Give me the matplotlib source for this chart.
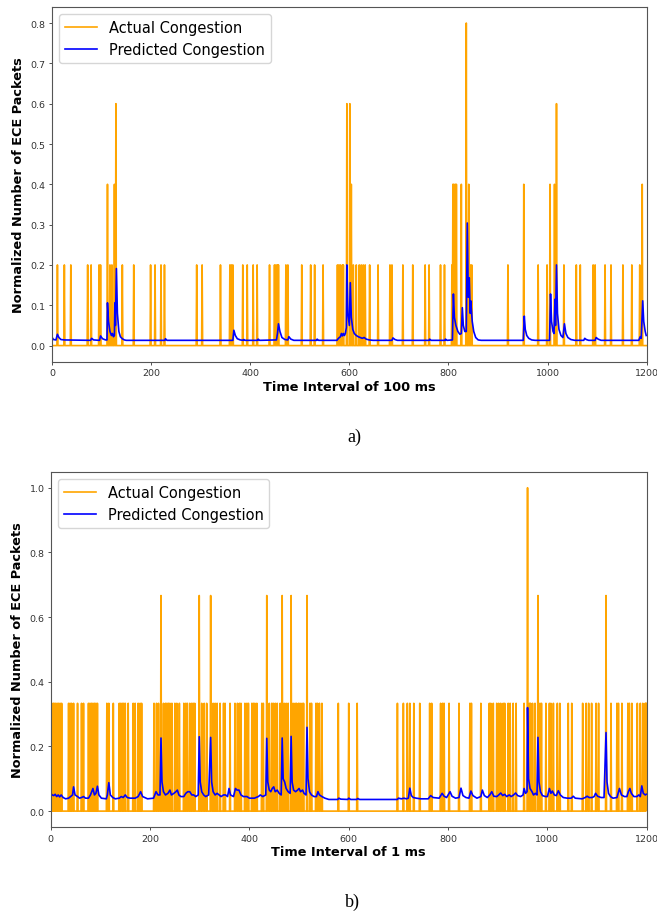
import numpy as np
import matplotlib
matplotlib.use("Agg")
import matplotlib.pyplot as plt

# ---- panel a) : 100 ms intervals ----
n_a = 1200
spikes_a_02 = [11, 25, 38, 72, 79, 95, 98, 117, 121, 142, 165, 199, 208, 220, 227,
               292, 303, 340, 359, 362, 365, 385, 394, 406, 414, 439, 449, 452, 455,
               457, 472, 476, 504, 522, 530, 547, 576, 579, 582, 586, 588, 608, 614,
               620, 624, 628, 632, 641, 658, 682, 686, 708, 728, 753, 761, 784, 792,
               807, 844, 847, 920, 981, 999, 1033, 1058, 1066, 1092, 1096, 1116, 1128,
               1152, 1170, 1186]
spikes_a_04 = [112, 126, 604, 809, 811, 814, 816, 826, 841, 952, 1005, 1014, 1191]
spikes_a_06 = [129, 595, 601, 1018]
spikes_a_08 = [836]

pred_a_x = [0, 3, 8, 11, 14, 18, 25, 78, 80, 84, 96, 98, 102, 108, 111, 112, 114, 117,
            120, 122, 124, 126, 127, 128, 130, 132, 135, 138, 142, 146, 150, 228, 229,
            232, 365, 367, 370, 374, 380, 386, 387, 390, 415, 416, 419, 453, 455, 457,
            460, 464, 470, 476, 478, 482, 488, 534, 535, 538, 575, 578, 582, 584, 586,
            588, 590, 592, 594, 595, 597, 600, 602, 604, 607, 610, 614, 618, 622, 626,
            630, 634, 640, 648, 686, 688, 692, 697, 761, 762, 765, 793, 794, 797, 808,
            810, 812, 815, 819, 823, 826, 828, 830, 833, 836, 838, 840, 842, 844, 845,
            848, 851, 855, 860, 866, 951, 953, 955, 958, 962, 968, 975, 1004, 1006,
            1008, 1011, 1013, 1015, 1016, 1018, 1020, 1023, 1027, 1031, 1034, 1037,
            1041, 1047, 1055, 1073, 1075, 1078, 1083, 1096, 1098, 1102, 1108, 1184,
            1187, 1189, 1192, 1194, 1197, 1199]
pred_a_y = [0.021, 0.015, 0.014, 0.028, 0.02, 0.015, 0.014, 0.013, 0.018, 0.014, 0.013,
            0.024, 0.017, 0.014, 0.014, 0.106, 0.06, 0.035, 0.025, 0.03, 0.022, 0.025,
            0.106, 0.05, 0.191, 0.08, 0.035, 0.022, 0.017, 0.014, 0.013, 0.013, 0.017,
            0.013, 0.013, 0.038, 0.025, 0.017, 0.014, 0.013, 0.015, 0.013, 0.013, 0.016,
            0.013, 0.014, 0.03, 0.054, 0.035, 0.02, 0.015, 0.014, 0.022, 0.016, 0.013,
            0.013, 0.016, 0.013, 0.013, 0.018, 0.022, 0.03, 0.024, 0.03, 0.025, 0.03,
            0.045, 0.2, 0.08, 0.05, 0.156, 0.07, 0.04, 0.03, 0.025, 0.022, 0.02, 0.018,
            0.02, 0.016, 0.014, 0.013, 0.013, 0.019, 0.015, 0.013, 0.013, 0.016, 0.013,
            0.013, 0.016, 0.013, 0.014, 0.128, 0.07, 0.05, 0.035, 0.028, 0.03, 0.094,
            0.05, 0.035, 0.035, 0.304, 0.12, 0.168, 0.08, 0.111, 0.06, 0.035, 0.02,
            0.014, 0.013, 0.013, 0.073, 0.04, 0.025, 0.018, 0.014, 0.013, 0.013, 0.128,
            0.06, 0.035, 0.03, 0.115, 0.05, 0.2, 0.08, 0.04, 0.025, 0.02, 0.054, 0.03,
            0.02, 0.015, 0.013, 0.013, 0.018, 0.015, 0.013, 0.013, 0.02, 0.016, 0.013,
            0.013, 0.022, 0.018, 0.111, 0.06, 0.035, 0.025]

# ---- panel b) : 1 ms intervals ----
n_b = 1200
spikes_b_13 = [2, 5, 7, 10, 13, 16, 19, 22, 36, 39, 42, 46, 54, 62, 66, 76, 79, 82, 85,
               88, 91, 94, 113, 117, 126, 138, 141, 144, 147, 150, 156, 166, 170, 176,
               180, 183, 208, 213, 217, 227, 231, 234, 237, 240, 244, 250, 254, 259, 268,
               272, 275, 280, 284, 287, 290, 304, 309, 314, 327, 331, 335, 341, 348, 351,
               361, 371, 376, 380, 383, 391, 395, 398, 405, 408, 411, 415, 425, 428, 440,
               445, 448, 452, 456, 462, 470, 474, 478, 488, 492, 495, 499, 502, 506, 509,
               522, 525, 534, 537, 541, 546, 579, 600, 617, 698, 710, 718, 723, 731, 743,
               763, 767, 785, 789, 792, 802, 822, 844, 847, 866, 883, 886, 891, 898, 902,
               906, 911, 914, 921, 925, 931, 937, 953, 964, 966, 970, 975, 985, 988, 997,
               1004, 1007, 1012, 1020, 1025, 1042, 1049, 1071, 1078, 1083, 1089, 1098,
               1103, 1128, 1140, 1143, 1150, 1162, 1165, 1170, 1181, 1187, 1192, 1197, 1199]
spikes_b_23 = [222, 299, 322, 435, 466, 484, 516, 981, 1118]
spikes_b_1 = [960]

pred_b_x = [0, 3, 6, 9, 12, 15, 18, 21, 25, 30, 36, 40, 44, 46, 49, 54, 58, 62, 66, 70,
            76, 80, 85, 88, 91, 94, 97, 102, 112, 114, 117, 120, 125, 130, 138, 142, 146,
            150, 154, 160, 170, 176, 181, 185, 195, 207, 212, 216, 220, 222, 224, 227,
            231, 236, 240, 243, 248, 252, 255, 258, 262, 268, 272, 276, 280, 284, 288,
            292, 297, 299, 301, 304, 308, 312, 318, 322, 324, 327, 331, 335, 339, 343,
            348, 352, 356, 359, 362, 368, 372, 375, 379, 383, 388, 395, 400, 410, 418,
            422, 427, 433, 435, 437, 440, 443, 446, 449, 452, 456, 460, 464, 466, 468,
            471, 474, 478, 482, 484, 486, 489, 493, 497, 500, 503, 507, 510, 514, 516,
            518, 521, 525, 530, 535, 538, 541, 546, 552, 560, 578, 580, 584, 598, 600,
            604, 616, 618, 622, 698, 700, 706, 711, 716, 720, 723, 726, 730, 736, 745,
            760, 765, 770, 782, 788, 792, 797, 804, 808, 815, 822, 826, 830, 836, 842,
            846, 850, 858, 866, 869, 873, 879, 884, 888, 892, 898, 902, 906, 910, 914,
            918, 923, 927, 932, 936, 940, 946, 951, 953, 956, 959, 960, 962, 965, 969,
            972, 976, 979, 981, 983, 986, 990, 996, 1000, 1004, 1007, 1010, 1014, 1018,
            1022, 1026, 1032, 1040, 1048, 1052, 1056, 1070, 1076, 1080, 1084, 1090, 1094,
            1097, 1101, 1108, 1114, 1118, 1120, 1123, 1127, 1132, 1140, 1145, 1149, 1155,
            1160, 1163, 1166, 1169, 1174, 1180, 1184, 1187, 1190, 1193, 1197, 1199]
pred_b_y = [0.055, 0.05, 0.048, 0.052, 0.045, 0.05, 0.044, 0.05, 0.042, 0.038, 0.04,
            0.045, 0.05, 0.075, 0.05, 0.045, 0.04, 0.042, 0.045, 0.04, 0.04, 0.05, 0.07,
            0.05, 0.055, 0.077, 0.05, 0.04, 0.038, 0.05, 0.088, 0.05, 0.042, 0.038, 0.04,
            0.045, 0.042, 0.05, 0.042, 0.04, 0.04, 0.045, 0.06, 0.045, 0.038, 0.04, 0.06,
            0.05, 0.05, 0.226, 0.09, 0.06, 0.05, 0.055, 0.065, 0.05, 0.055, 0.06, 0.065,
            0.05, 0.045, 0.045, 0.055, 0.06, 0.06, 0.05, 0.05, 0.045, 0.05, 0.23, 0.09,
            0.06, 0.05, 0.045, 0.05, 0.228, 0.09, 0.06, 0.05, 0.055, 0.05, 0.045, 0.05,
            0.05, 0.045, 0.07, 0.05, 0.045, 0.07, 0.065, 0.065, 0.05, 0.045, 0.045, 0.04,
            0.04, 0.045, 0.05, 0.045, 0.05, 0.225, 0.09, 0.065, 0.06, 0.07, 0.075, 0.06,
            0.065, 0.055, 0.05, 0.226, 0.1, 0.09, 0.07, 0.06, 0.055, 0.231, 0.09, 0.065,
            0.06, 0.065, 0.07, 0.06, 0.065, 0.055, 0.05, 0.259, 0.1, 0.06, 0.05, 0.045,
            0.045, 0.06, 0.05, 0.045, 0.04, 0.036, 0.036, 0.04, 0.037, 0.036, 0.04, 0.036,
            0.036, 0.039, 0.036, 0.036, 0.04, 0.038, 0.04, 0.038, 0.04, 0.071, 0.048,
            0.042, 0.04, 0.038, 0.038, 0.048, 0.042, 0.04, 0.055, 0.046, 0.042, 0.06,
            0.046, 0.04, 0.042, 0.071, 0.048, 0.042, 0.04, 0.062, 0.048, 0.04, 0.045,
            0.065, 0.048, 0.042, 0.05, 0.06, 0.046, 0.045, 0.05, 0.056, 0.048, 0.052,
            0.045, 0.05, 0.045, 0.05, 0.056, 0.048, 0.045, 0.05, 0.07, 0.055, 0.06, 0.32,
            0.1, 0.07, 0.06, 0.05, 0.055, 0.05, 0.228, 0.09, 0.06, 0.048, 0.045, 0.045,
            0.07, 0.055, 0.062, 0.05, 0.048, 0.063, 0.05, 0.042, 0.04, 0.04, 0.046, 0.04,
            0.038, 0.042, 0.046, 0.042, 0.042, 0.045, 0.055, 0.046, 0.042, 0.042, 0.243,
            0.09, 0.055, 0.045, 0.04, 0.042, 0.07, 0.05, 0.045, 0.045, 0.06, 0.07, 0.055,
            0.045, 0.045, 0.05, 0.045, 0.078, 0.055, 0.05, 0.052]


def build_actual(n, groups):
    y = np.zeros(n)
    for level, idx in groups:
        y[idx] = level
    return y


actual_a = build_actual(n_a, [(0.2, spikes_a_02), (0.4, spikes_a_04),
                              (0.6, spikes_a_06), (0.8, spikes_a_08)])
actual_b = build_actual(n_b, [(1 / 3, spikes_b_13), (2 / 3, spikes_b_23),
                              (1.0, spikes_b_1)])

fig = plt.figure(figsize=(6.57, 9.12), dpi=100)
ax1 = fig.add_axes([0.0791, 0.6023, 0.9052, 0.389])
ax2 = fig.add_axes([0.0772, 0.0918, 0.9072, 0.390])


def style(ax, xlabel, yticks):
    ax.set_xlim(0, 1200)
    ax.set_xticks([0, 200, 400, 600, 800, 1000, 1200])
    ax.set_yticks(yticks)
    ax.tick_params(labelsize=6.8, length=2.5, width=0.6, colors='#333333', pad=2)
    for s in ax.spines.values():
        s.set_linewidth(0.8)
        s.set_color('#555555')
    ax.set_xlabel(xlabel, fontsize=9.3, fontweight='bold', labelpad=2)
    ax.set_ylabel('Normalized Number of ECE Packets', fontsize=9.3,
                  fontweight='bold', labelpad=4)
    ax.legend(loc='upper left', fontsize=10.5, framealpha=0.8,
              borderaxespad=0.5, handlelength=2.2)


ax1.plot(np.arange(n_a), actual_a, color='orange', lw=1.2, label='Actual Congestion')
ax1.plot(pred_a_x, pred_a_y, color='blue', lw=1.2, label='Predicted Congestion')
style(ax1, 'Time Interval of 100 ms', [0.0, 0.1, 0.2, 0.3, 0.4, 0.5, 0.6, 0.7, 0.8])
ax1.set_yticklabels(['0.0', '0.1', '0.2', '0.3', '0.4', '0.5', '0.6', '0.7', '0.8'])

ax2.plot(np.arange(n_b), actual_b, color='orange', lw=1.2, label='Actual Congestion')
ax2.plot(pred_b_x, pred_b_y, color='blue', lw=1.2, label='Predicted Congestion')
style(ax2, 'Time Interval of 1 ms', [0.0, 0.2, 0.4, 0.6, 0.8, 1.0])
ax2.set_yticklabels(['0.0', '0.2', '0.4', '0.6', '0.8', '1.0'])

fig.text(0.54, 0.521, 'a)', family='Liberation Serif', fontsize=13,
         ha='center', va='center')
fig.text(0.537, 0.011, 'b)', family='Liberation Serif', fontsize=13,
         ha='center', va='center')

fig.savefig('out.png', dpi=100)
